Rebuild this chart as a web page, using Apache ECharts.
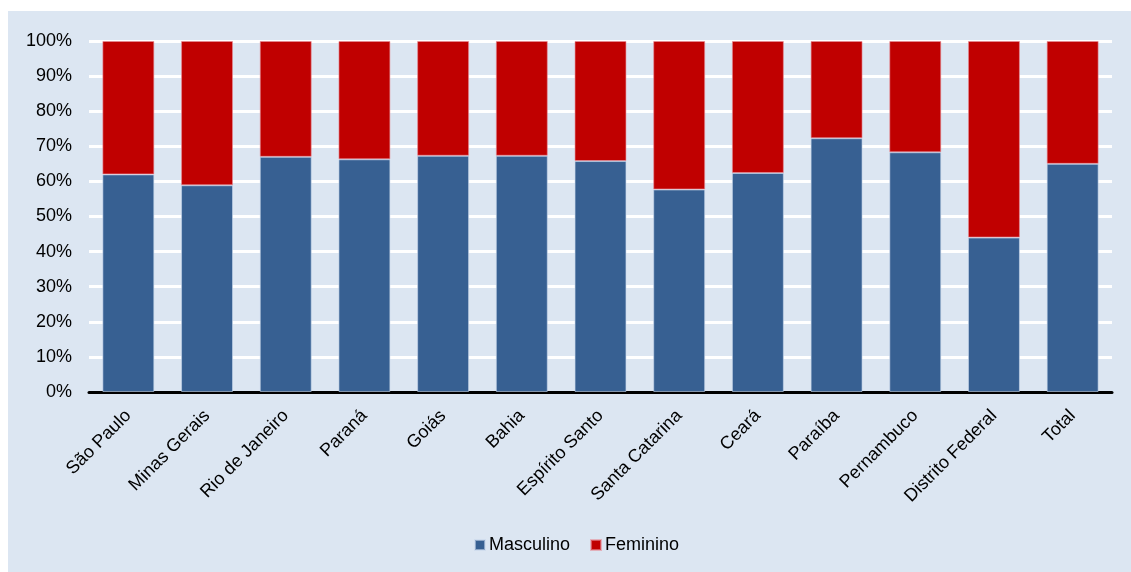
<!DOCTYPE html>
<html>
<head>
<meta charset="utf-8">
<script src="https://cdn.jsdelivr.net/npm/echarts@6/dist/echarts.min.js"></script>
<style>
  html, body { margin: 0; padding: 0; background: #ffffff; }
  #panel { position: absolute; left: 8px; top: 11px; width: 1123px; height: 561px; background: #dce6f2; }
  #chart { width: 100%; height: 100%; }
</style>
</head>
<body>
<div id="panel"><div id="chart"></div></div>
<script>
// Share of workers by sex in each state (%)
const estados = ['São Paulo', 'Minas Gerais', 'Rio de Janeiro', 'Paraná', 'Goiás', 'Bahia',
  'Espírito Santo', 'Santa Catarina', 'Ceará', 'Paraíba', 'Pernambuco', 'Distrito Federal', 'Total'];
const masculino = [62.0, 58.9, 67.0, 66.3, 67.3, 67.3, 65.8, 57.7, 62.4, 72.3, 68.3, 44.0, 65.0];
const feminino  = [38.0, 41.1, 33.0, 33.7, 32.7, 32.7, 34.2, 42.3, 37.6, 27.7, 31.7, 56.0, 35.0];
const yTicks = { min: 0, max: 100, interval: 10 };

const font = 'Liberation Sans, Arial, sans-serif';
const chart = echarts.init(document.getElementById('chart'), null, { renderer: 'canvas' });

chart.setOption({
  animation: false,
  textStyle: { fontFamily: font },
  grid: { left: 81, right: 19, top: 30, bottom: 180, containLabel: false },
  legend: {
    left: 461, bottom: 13,
    itemWidth: 10, itemHeight: 10, itemGap: 20,
    icon: 'rect',
    textStyle: { fontFamily: font, fontSize: 18, color: '#000', padding: [0, 0, 0, -1] },
    data: ['Masculino', 'Feminino']
  },
  xAxis: {
    type: 'category',
    data: estados,
    axisLine: { lineStyle: { color: '#000', width: 3 } },
    axisTick: { show: false },
    axisLabel: { rotate: 45, fontSize: 18, color: '#000', fontFamily: font, margin: 21, interval: 0 }
  },
  yAxis: {
    type: 'value',
    min: yTicks.min, max: yTicks.max, interval: yTicks.interval,
    axisLine: { show: false },
    axisTick: { show: false },
    splitLine: { lineStyle: { color: '#ffffff', width: 3 } },
    axisLabel: { formatter: '{value}%', fontSize: 18, color: '#000', fontFamily: font, margin: 17 }
  },
  series: [
    {
      name: 'Masculino', type: 'bar', stack: 'sexo', data: masculino,
      barWidth: '66%',
      itemStyle: { color: '#376092', borderColor: 'rgba(200,215,235,0.6)', borderWidth: 1 }
    },
    {
      name: 'Feminino', type: 'bar', stack: 'sexo', data: feminino,
      barWidth: '66%',
      itemStyle: { color: '#c00000', borderColor: 'rgba(230,140,150,0.6)', borderWidth: 1 }
    }
  ]
});
</script>
</body>
</html>
